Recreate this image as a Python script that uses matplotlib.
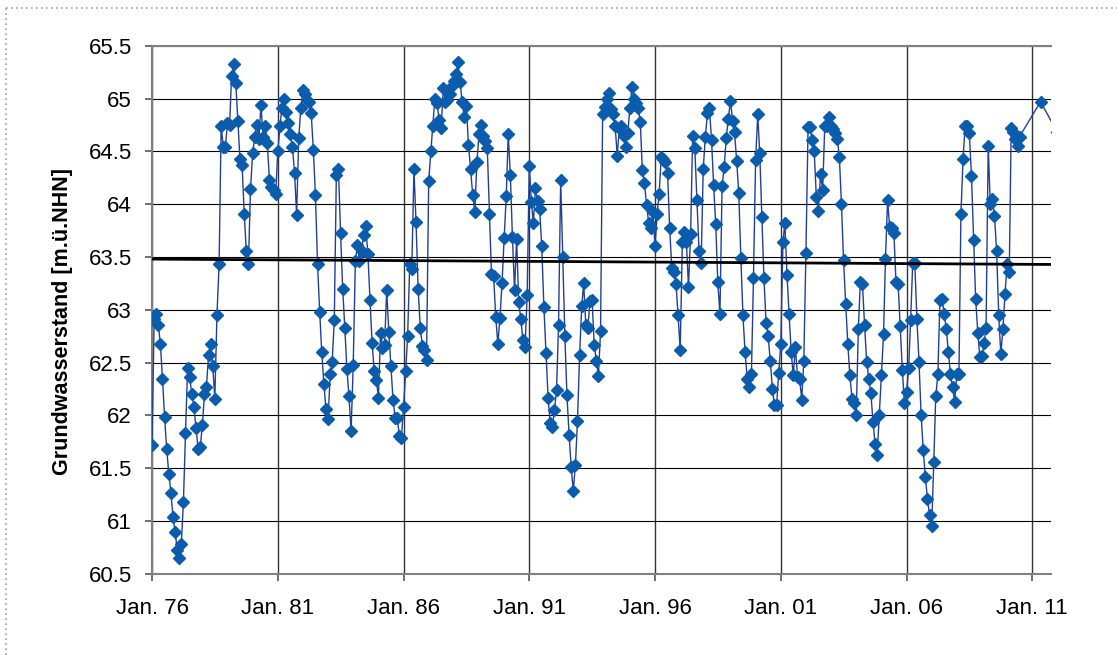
import numpy as np
import pandas as pd
import matplotlib
matplotlib.use("Agg")
import matplotlib.pyplot as plt
import matplotlib.dates as mdates
from matplotlib.lines import Line2D
from matplotlib.ticker import FuncFormatter, MultipleLocator

plt.rcParams['font.family'] = ['Liberation Sans', 'DejaVu Sans']

# Monatswerte Grundwasserstand [m ü. NHN], ab Jan. 1976
levels = [
    61.72, 62.91, 62.96, 62.86, 62.68, 62.35, 61.99, 61.68, 61.45, 61.27, 61.04, 60.90,  # 1976
    60.73, 60.65, 60.78, 61.18, 61.83, 62.45, 62.36, 62.20, 62.08, 61.88, 61.68, 61.70,  # 1977
    61.91, 62.20, 62.27, 62.57, 62.68, 62.47, 62.16, 62.95, 63.43, 64.74, 64.54, 64.54,  # 1978
    64.77, 64.75, 65.21, 65.33, 65.15, 64.79, 64.43, 64.37, 63.91, 63.56, 63.43, 64.14,  # 1979
    64.48, 64.64, 64.75, 64.62, 64.94, 64.64, 64.74, 64.58, 64.23, 64.16, 64.13, 64.10,  # 1980
    64.50, 64.74, 64.91, 65.00, 64.87, 64.77, 64.66, 64.54, 64.30, 63.90, 64.63, 64.91,  # 1981
    65.08, 65.04, 64.99, 64.97, 64.86, 64.51, 64.09, 63.43, 62.98, 62.60, 62.30, 62.06,  # 1982
    61.97, 62.39, 62.51, 62.90, 64.28, 64.33, 63.73, 63.20, 62.83, 62.44, 62.18, 61.85,  # 1983
    62.48, 63.46, 63.61, 63.46, 63.56, 63.71, 63.79, 63.53, 63.09, 62.69, 62.42, 62.34,  # 1984
    62.17, 62.78, 62.64, 62.67, 63.19, 62.79, 62.47, 62.15, 61.98, 61.98, 61.81, 61.79,  # 1985
    62.08, 62.42, 62.75, 63.43, 63.39, 64.33, 63.83, 63.20, 62.83, 62.66, 62.62, 62.53,  # 1986
    64.22, 64.50, 64.74, 65.00, 64.96, 64.80, 64.72, 65.10, 64.97, 64.99, 65.04, 65.12,  # 1987
    65.17, 65.23, 65.35, 65.16, 64.97, 64.83, 64.93, 64.56, 64.33, 64.09, 63.93, 64.40,  # 1988
    64.66, 64.75, 64.65, 64.60, 64.53, 63.91, 63.34, 63.32, 62.93, 62.68, 62.92, 63.25,  # 1989
    63.68, 64.08, 64.66, 64.28, 63.69, 63.19, 63.67, 63.07, 62.91, 62.71, 62.65, 63.14,  # 1990
    64.36, 64.02, 63.82, 64.15, 64.03, 63.95, 63.60, 63.03, 62.59, 62.17, 61.93, 61.89,  # 1991
    62.05, 62.24, 62.86, 64.23, 63.50, 62.75, 62.19, 61.82, 61.51, 61.29, 61.53, 61.95,  # 1992
    62.57, 63.04, 63.25, 62.86, 62.83, 63.08, 63.09, 62.67, 62.52, 62.37, 62.80, 64.85,  # 1993
    64.92, 65.00, 65.05, 64.90, 64.85, 64.74, 64.46, 64.72, 64.74, 64.65, 64.54, 64.67,  # 1994
    64.91, 65.11, 65.00, 64.96, 64.91, 64.78, 64.32, 64.20, 63.99, 63.82, 63.77, 63.93,  # 1995
    63.60, 63.91, 64.10, 64.45, 64.43, 64.40, 64.30, 63.77, 63.40, 63.36, 63.24, 62.95,  # 1996
    62.62, 63.64, 63.74, 63.64, 63.22, 63.72, 64.65, 64.53, 64.04, 63.56, 63.44, 64.33,  # 1997
    64.64, 64.86, 64.91, 64.61, 64.18, 63.81, 63.26, 62.96, 64.17, 64.35, 64.63, 64.81,  # 1998
    64.98, 64.79, 64.68, 64.41, 64.11, 63.49, 62.95, 62.60, 62.35, 62.27, 62.39, 63.30,  # 1999
    64.42, 64.85, 64.48, 63.88, 63.30, 62.88, 62.75, 62.52, 62.25, 62.10, 62.10, 62.40,  # 2000
    62.68, 63.64, 63.82, 63.33, 62.96, 62.60, 62.38, 62.65, 62.36, 62.35, 62.15, 62.52,  # 2001
    63.54, 64.73, 64.73, 64.61, 64.50, 64.07, 63.94, 64.29, 64.13, 64.74, 64.74, 64.83,  # 2002
    64.74, 64.71, 64.67, 64.62, 64.45, 64.00, 63.47, 63.06, 62.68, 62.38, 62.16, 62.12,  # 2003
    62.00, 62.82, 63.26, 63.24, 62.86, 62.51, 62.35, 62.21, 61.94, 61.73, 61.63, 62.00,  # 2004
    62.38, 62.77, 63.48, 64.04, 63.78, 63.77, 63.73, 63.26, 63.24, 62.85, 62.43, 62.12,  # 2005
    62.22, 62.45, 62.90, 63.44, 63.44, 62.91, 62.51, 62.00, 61.67, 61.42, 61.21, 61.06,  # 2006
    60.95, 61.56, 62.18, 62.39, 63.09, 63.10, 62.96, 62.82, 62.60, 62.39, 62.27, 62.13,  # 2007
    62.39, 62.39, 63.91, 64.43, 64.74, 64.74, 64.67, 64.27, 63.66, 63.10, 62.78, 62.55,  # 2008
    62.56, 62.69, 62.83, 64.55, 64.00, 64.05, 63.89, 63.56, 62.95, 62.58, 62.82, 63.15,  # 2009
    63.43, 63.36, 64.72, 64.68, 64.62, 64.55, 64.64,                                      # 2010
]
# spätere Einzelmessungen
late_dates = ["2011-05-01", "2012-01-01"]
late_levels = [64.97, 64.68]

dates = pd.date_range("1976-01-01", periods=len(levels), freq="MS")
dates = dates.append(pd.DatetimeIndex(late_dates))
values = np.array(levels + late_levels)

x_start = pd.Timestamp("1976-01-01")
x_end = pd.Timestamp("2011-09-25")

fig = plt.figure(figsize=(11.17, 6.55), dpi=100)
ax = fig.add_axes([0.1361, 0.1237, 0.8045, 0.8065])

ax.plot(dates, values, color='#223f98', lw=1.0, marker='D', markersize=6.2,
        markerfacecolor='#0b5cad', markeredgecolor='#0b5cad', zorder=3)

# linearer Trend
xn = mdates.date2num(dates)
k, d = np.polyfit(xn, values, 1)
tx = np.array([xn[0], xn[-1]])
ax.plot(mdates.num2date(tx), k * tx + d, color='black', lw=2.0, zorder=4)

ax.set_xlim(x_start, x_end)
ax.set_ylim(60.5, 65.5)
ax.yaxis.set_major_locator(MultipleLocator(0.5))
ax.yaxis.set_major_formatter(FuncFormatter(lambda v, p: f"{v:g}"))

xticks = pd.date_range("1976-01-01", "2011-01-01", freq="5YS")
ax.set_xticks(xticks)
ax.set_xticklabels([t.strftime("Jan. %y") for t in xticks])

ax.grid(axis='y', color='black', lw=0.8)
ax.grid(axis='x', color='#333333', lw=1.0)
ax.set_axisbelow(True)

for side in ['left', 'bottom', 'top']:
    ax.spines[side].set_color('#7f7f7f')
    ax.spines[side].set_linewidth(1.5)
ax.spines['right'].set_visible(False)

ax.tick_params(axis='both', direction='out', length=5, width=1.2, color='#555555',
               labelsize=16, labelcolor='black')
ax.tick_params(axis='x', pad=12.5)
ax.tick_params(axis='y', pad=9.5)

ax.set_ylabel("Grundwasserstand [m.ü.NHN]", fontsize=15.5, fontweight='bold')
ax.yaxis.set_label_coords(-0.088, 0.477)

# gepunkteter Rahmen
bx = 6 / 1117
by = 1 - 7.5 / 655
fig.add_artist(Line2D([bx, 1], [by, by], transform=fig.transFigure,
                      ls=(0, (1, 2)), color='#a0a0a0', lw=1.2))
fig.add_artist(Line2D([bx, bx], [0, by], transform=fig.transFigure,
                      ls=(0, (1, 2)), color='#a0a0a0', lw=1.2))

fig.savefig("out.png", dpi=100)
